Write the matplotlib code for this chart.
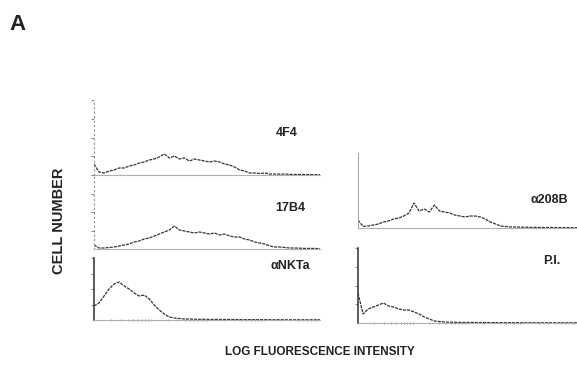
import numpy as np
import matplotlib.pyplot as plt

plt.rcParams['font.family'] = ['Liberation Sans', 'DejaVu Sans']

# cell counts per fluorescence channel
counts_4f4 = [11, 3, 2, 4, 5, 7, 7, 9, 10, 12, 13, 15, 16, 18, 21, 17, 19, 16, 17, 14,
              16, 15, 14, 13, 14, 13, 11, 10, 8, 5, 4, 2, 2, 1.5, 2, 1, 1, 0.8, 1, 0.6,
              0.5, 0.5, 0.4, 0.5, 0.3, 0.3]
counts_17b4 = [4, 1, 1, 1.5, 2, 3, 4, 5, 7, 8, 10, 11, 13, 15, 17, 19, 23, 19, 18, 17,
               16, 17, 16, 15, 16, 14, 15, 13, 12, 12, 10, 9, 7, 6, 5, 3, 2, 2, 1.5, 1,
               1, 0.8, 0.6, 0.6, 0.5, 0.4]
counts_nkta = [14, 17, 24, 31, 36, 38, 34, 31, 27, 24, 25, 21, 15, 10, 6, 3, 2, 1.5, 1, 1,
               0.8, 0.6, 0.8, 0.5, 0.6, 0.5, 0.4, 0.5, 0.4, 0.4, 0.3, 0.4, 0.3, 0.3, 0.3, 0.3,
               0.2, 0.3, 0.2, 0.2, 0.2, 0.2, 0.2, 0.2, 0.2, 0.2]
counts_208b = [8, 1.5, 2, 3, 4, 6, 7, 9, 10, 12, 15, 25, 17, 19, 16, 23, 17, 16, 15, 13,
               12, 11, 12, 12, 11, 9, 6, 4, 2, 1.5, 1, 1, 0.8, 0.8, 0.6, 0.6, 0.5, 0.5,
               0.5, 0.4, 0.4, 0.4, 0.3, 0.3]
counts_pi = [30, 9, 14, 16, 18, 20, 17, 16, 14, 13, 13, 11, 9, 6, 4, 2, 1.5, 1, 0.8, 0.7,
             0.6, 0.5, 0.6, 0.5, 0.4, 0.5, 0.4, 0.4, 0.3, 0.3, 0.3, 0.3, 0.3, 0.2, 0.2, 0.2,
             0.2, 0.2, 0.2, 0.2, 0.2, 0.2, 0.2, 0.2]

labels = ['4F4', '17B4', '\u03b1NKTa', '\u03b1208B', 'P.I.']

W, H = 577, 374
fig = plt.figure(figsize=(W / 100, H / 100), dpi=100)

def px_axes(x0, x1, ytop, ybot):
    return fig.add_axes([x0 / W, 1 - ybot / H, (x1 - x0) / W, (ybot - ytop) / H])

# (counts, x0, x1, ytop, ybot, yaxis style, log ticks)
panels = [
    (counts_4f4, 94, 320, 100, 175, 'dotted', False),
    (counts_17b4, 94, 320, 175, 249, 'dotted', False),
    (counts_nkta, 94, 320, 258, 320, 'solid', True),
    (counts_208b, 358, 577, 153, 228, 'thin', False),
    (counts_pi, 358, 577, 248, 323, 'solid', True),
]

for counts, x0, x1, ytop, ybot, ystyle, logticks in panels:
    ax = px_axes(x0, x1, ytop, ybot)
    ch = np.arange(len(counts))
    ax.plot(ch, counts, color='#333333', lw=0.9, ls=(0, (2.5, 0.8)))
    ax.set_xlim(0, len(counts) - 1)
    ax.set_ylim(0, ybot - ytop)
    for s in ['top', 'right']:
        ax.spines[s].set_visible(False)
    ax.spines['bottom'].set_color('#b0b0b0')
    ax.spines['bottom'].set_linewidth(0.8)
    if ystyle == 'dotted':
        ax.spines['left'].set_linestyle((0, (1, 3)))
        ax.spines['left'].set_color('#909090')
        ax.spines['left'].set_linewidth(0.8)
    elif ystyle == 'thin':
        ax.spines['left'].set_color('#a0a0a0')
        ax.spines['left'].set_linewidth(0.7)
    else:
        ax.spines['left'].set_color('#404040')
        ax.spines['left'].set_linewidth(1.2)
    ax.set_yticks(np.linspace(0, ybot - ytop, 5)[1:] if ystyle != 'thin' else [])
    ax.tick_params(axis='y', length=2, width=0.6, color='#707070', labelleft=False)
    if logticks:
        dec = (len(counts) - 1) / 4
        pos = [d * dec + np.log10(k) * dec for d in range(4) for k in range(1, 10)]
        ax.set_xticks(pos)
        ax.tick_params(axis='x', length=2, width=0.6, color='#808080',
                       direction='inout', labelbottom=False)
    else:
        ax.set_xticks([])
    ax.patch.set_alpha(0)

label_pos = [(287, 133), (290, 208), (290, 266), (549, 200), (552, 261)]
for lab, (lx, ly) in zip(labels, label_pos):
    fig.text(lx / W, 1 - ly / H, lab, ha='center', va='center',
             fontsize=9, fontweight='bold', color='#222222')

fig.text(9 / W, 1 - 30 / H, 'A', fontsize=16, fontweight='bold', color='#222222')
fig.text(59 / W, 1 - 221 / H, 'CELL NUMBER', rotation=90, ha='center', va='center',
         fontsize=10.5, fontweight='bold', color='#222222')
fig.text(320 / W, 1 - 352 / H, 'LOG FLUORESCENCE INTENSITY', ha='center', va='center',
         fontsize=8.5, fontweight='bold', color='#222222')

fig.savefig('out.png', dpi=100)
